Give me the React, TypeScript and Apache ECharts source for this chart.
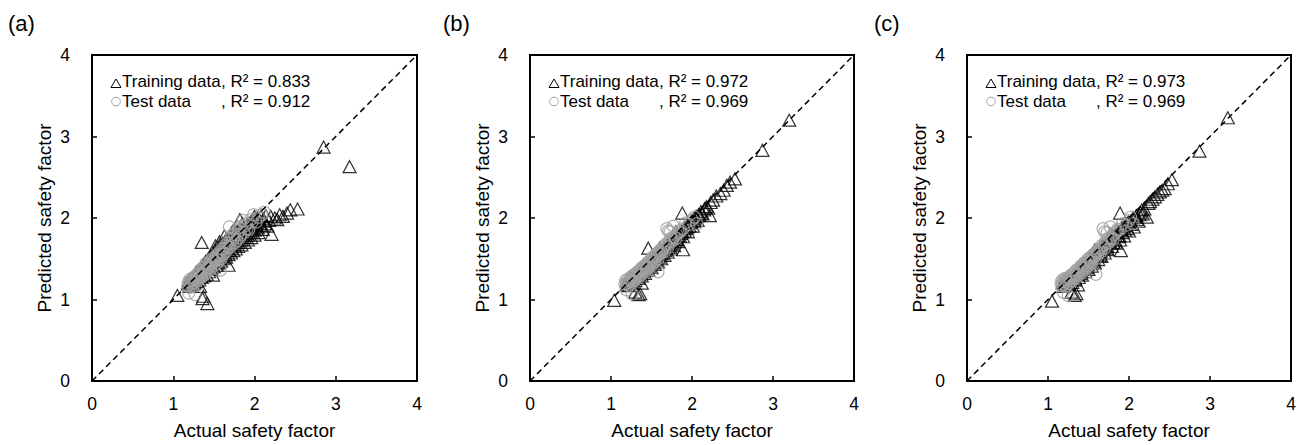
import { useEffect, useRef } from "react";
import * as echarts from "echarts";

// Axis range shared by all three panels (both axes)
const AXIS_MIN = 0;
const AXIS_MAX = 4;
const AXIS_STEP = 1;

const panelLabels = ["(a)", "(b)", "(c)"];
const r2Train = ["0.833", "0.972", "0.973"];
const r2Test = ["0.912", "0.969", "0.969"];
const xTitle = "Actual safety factor";
const yTitle = "Predicted safety factor";
const identityLine = [
  [0, 0],
  [4, 4],
];

// (a) actual vs predicted
const trainA = [
  [1.18, 1.19], [1.19, 1.23], [1.2, 1.16], [1.21, 1.21], [1.22, 1.26], [1.23, 1.18], [1.24, 1.23], [1.25, 1.29],
  [1.26, 1.2], [1.27, 1.26], [1.28, 1.32], [1.29, 1.22], [1.3, 1.28], [1.31, 1.36], [1.32, 1.24], [1.33, 1.31],
  [1.34, 1.39], [1.35, 1.27], [1.36, 1.34], [1.37, 1.43], [1.38, 1.29], [1.39, 1.37], [1.4, 1.47], [1.41, 1.31],
  [1.42, 1.41], [1.43, 1.5], [1.44, 1.34], [1.45, 1.44], [1.46, 1.53], [1.47, 1.37], [1.48, 1.46], [1.49, 1.57],
  [1.5, 1.4], [1.51, 1.49], [1.52, 1.6], [1.53, 1.42], [1.54, 1.52], [1.55, 1.63], [1.56, 1.45], [1.57, 1.55],
  [1.58, 1.66], [1.59, 1.47], [1.6, 1.58], [1.61, 1.69], [1.62, 1.5], [1.63, 1.61], [1.64, 1.72], [1.65, 1.52],
  [1.66, 1.63], [1.67, 1.74], [1.68, 1.55], [1.69, 1.66], [1.7, 1.77], [1.71, 1.57], [1.72, 1.68], [1.73, 1.79],
  [1.74, 1.6], [1.75, 1.71], [1.76, 1.81], [1.77, 1.62], [1.78, 1.73], [1.79, 1.84], [1.8, 1.65], [1.82, 1.76],
  [1.83, 1.86], [1.84, 1.67], [1.86, 1.78], [1.87, 1.89], [1.88, 1.7], [1.9, 1.81], [1.91, 1.92], [1.92, 1.73],
  [1.94, 1.84], [1.95, 1.95], [1.96, 1.76], [1.98, 1.87], [1.99, 1.97], [2.0, 1.79], [2.02, 1.9], [2.03, 2.0],
  [2.05, 1.82], [2.07, 1.93], [2.08, 2.02], [2.1, 1.86], [2.12, 1.96], [2.14, 2.03], [2.16, 1.9], [2.18, 1.97],
  [1.22, 1.22], [1.25, 1.24], [1.28, 1.27], [1.3, 1.32], [1.33, 1.28], [1.35, 1.36], [1.37, 1.33], [1.4, 1.38],
  [1.42, 1.45], [1.44, 1.39], [1.46, 1.48], [1.48, 1.42], [1.5, 1.52], [1.52, 1.46], [1.54, 1.56], [1.56, 1.5],
  [1.58, 1.6], [1.6, 1.53], [1.62, 1.64], [1.64, 1.57], [1.66, 1.68], [1.68, 1.6], [1.7, 1.71], [1.72, 1.63],
  [1.74, 1.75], [1.76, 1.67], [1.78, 1.78], [1.8, 1.7], [1.82, 1.81], [1.84, 1.73], [1.86, 1.84], [1.88, 1.76],
  [1.9, 1.87], [1.92, 1.79], [1.94, 1.9], [1.96, 1.82], [1.98, 1.92], [2.0, 1.85], [2.02, 1.95], [2.04, 1.88],
  [2.06, 1.98], [2.09, 1.91], [2.11, 1.99], [2.13, 1.93], [1.63, 1.78], [1.57, 1.71], [1.52, 1.66], [1.85, 1.93],
  [1.74, 1.85], [2.0, 2.02],
  [1.05, 1.05], [1.33, 1.16], [1.36, 1.01], [1.37, 1.04], [1.42, 0.95], [1.35, 1.7], [1.49, 1.3], [1.68, 1.42],
  [1.82, 1.98], [2.21, 1.8], [2.2, 2.02], [2.25, 2.0], [2.28, 1.98], [2.31, 2.04], [2.35, 2.02], [2.4, 2.06],
  [2.44, 2.1], [2.53, 2.11], [2.85, 2.87], [3.17, 2.63],
];
const testA = [
  [1.18, 1.18], [1.19, 1.22], [1.2, 1.15], [1.19, 1.08], [1.21, 1.25], [1.22, 1.19], [1.23, 1.23], [1.24, 1.16],
  [1.25, 1.27], [1.26, 1.21], [1.27, 1.06], [1.27, 1.25], [1.29, 1.3], [1.3, 1.23], [1.31, 1.27], [1.33, 1.33],
  [1.34, 1.27], [1.35, 1.31], [1.37, 1.38], [1.38, 1.3], [1.39, 1.35], [1.41, 1.42], [1.42, 1.34], [1.43, 1.39],
  [1.45, 1.46], [1.46, 1.37], [1.47, 1.43], [1.49, 1.5], [1.5, 1.41], [1.51, 1.47], [1.53, 1.54], [1.54, 1.45],
  [1.55, 1.51], [1.57, 1.58], [1.58, 1.36], [1.59, 1.5], [1.6, 1.62], [1.62, 1.56], [1.64, 1.66], [1.65, 1.59],
  [1.67, 1.7], [1.69, 1.89], [1.7, 1.64], [1.71, 1.75], [1.73, 1.68], [1.75, 1.8], [1.77, 1.85], [1.78, 1.72],
  [1.8, 1.84], [1.82, 1.76], [1.84, 1.9], [1.86, 1.97], [1.87, 1.82], [1.9, 1.93], [1.93, 1.86], [1.95, 1.98],
  [1.99, 2.04], [2.02, 1.95], [2.05, 2.01], [2.09, 2.04], [2.12, 2.07],
  [1.2, 1.21], [1.22, 1.23], [1.24, 1.2], [1.26, 1.24], [1.28, 1.29], [1.29, 1.26], [1.31, 1.31], [1.32, 1.26],
  [1.33, 1.36], [1.35, 1.28], [1.36, 1.35], [1.38, 1.4], [1.4, 1.33], [1.4, 1.44], [1.42, 1.38], [1.44, 1.44],
  [1.46, 1.41], [1.47, 1.49], [1.48, 1.45], [1.5, 1.47], [1.52, 1.52], [1.53, 1.5], [1.55, 1.55], [1.56, 1.49],
  [1.58, 1.54], [1.6, 1.58], [1.61, 1.55], [1.63, 1.62], [1.66, 1.65], [1.68, 1.64], [1.7, 1.69], [1.72, 1.79],
  [1.74, 1.74], [1.76, 1.7], [1.79, 1.8], [1.81, 1.88], [1.83, 1.79], [1.88, 1.9], [1.91, 1.87], [1.97, 1.95],
];

// (b) actual vs predicted
const trainB = [
  [1.19, 1.18], [1.2, 1.23], [1.22, 1.17], [1.23, 1.22], [1.24, 1.26], [1.26, 1.2], [1.27, 1.25], [1.28, 1.29],
  [1.3, 1.23], [1.31, 1.28], [1.32, 1.32], [1.34, 1.26], [1.35, 1.31], [1.36, 1.36], [1.38, 1.29], [1.39, 1.34],
  [1.4, 1.4], [1.42, 1.32], [1.43, 1.38], [1.44, 1.43], [1.46, 1.36], [1.47, 1.41], [1.48, 1.47], [1.5, 1.39],
  [1.51, 1.45], [1.52, 1.51], [1.54, 1.43], [1.55, 1.48], [1.56, 1.55], [1.58, 1.46], [1.59, 1.52], [1.6, 1.58],
  [1.62, 1.5], [1.63, 1.56], [1.64, 1.62], [1.66, 1.54], [1.67, 1.6], [1.68, 1.66], [1.7, 1.58], [1.71, 1.64],
  [1.72, 1.7], [1.74, 1.62], [1.75, 1.68], [1.77, 1.74], [1.78, 1.66], [1.8, 1.73], [1.82, 1.79], [1.83, 1.71],
  [1.85, 1.78], [1.87, 1.84], [1.89, 1.77], [1.91, 1.84], [1.93, 1.9], [1.95, 1.83], [1.97, 1.9], [1.99, 1.96],
  [2.01, 1.9], [2.03, 1.96], [2.05, 2.02], [2.07, 1.97], [2.09, 2.03], [2.11, 2.08], [2.13, 2.05], [2.15, 2.1],
  [2.18, 2.14], [2.2, 2.12],
  [1.21, 1.2], [1.24, 1.21], [1.27, 1.23], [1.29, 1.27], [1.32, 1.28], [1.34, 1.31], [1.37, 1.33], [1.39, 1.37],
  [1.41, 1.38], [1.44, 1.4], [1.46, 1.43], [1.49, 1.45], [1.51, 1.48], [1.53, 1.49], [1.56, 1.51], [1.58, 1.55],
  [1.61, 1.56], [1.63, 1.6], [1.65, 1.61], [1.68, 1.63], [1.7, 1.67], [1.73, 1.68], [1.75, 1.72], [1.78, 1.73],
  [1.8, 1.77], [1.83, 1.78], [1.86, 1.81], [1.88, 1.83], [1.91, 1.87], [1.94, 1.88], [1.96, 1.93], [1.99, 1.94],
  [2.02, 1.99], [2.04, 2.0], [2.08, 2.04], [2.12, 2.06], [2.16, 2.12], [1.6, 1.63], [1.8, 1.83],
  [1.04, 0.99], [1.3, 1.09], [1.34, 1.06], [1.36, 1.07], [1.38, 1.2], [1.46, 1.63], [1.89, 1.61], [1.88, 2.06],
  [2.22, 2.03], [2.23, 2.19], [2.26, 2.22], [2.3, 2.27], [2.35, 2.3], [2.39, 2.34], [2.43, 2.4], [2.47, 2.44],
  [2.53, 2.48], [2.87, 2.83], [3.2, 3.2],
];
const testB = [
  [1.17, 1.19], [1.18, 1.23], [1.19, 1.12], [1.2, 1.2], [1.21, 1.25], [1.22, 1.17], [1.24, 1.23], [1.25, 1.28],
  [1.26, 1.07], [1.26, 1.2], [1.28, 1.26], [1.29, 1.31], [1.3, 1.24], [1.32, 1.29], [1.33, 1.34], [1.34, 1.27],
  [1.36, 1.33], [1.37, 1.38], [1.38, 1.31], [1.4, 1.36], [1.41, 1.41], [1.42, 1.34], [1.44, 1.4], [1.45, 1.45],
  [1.46, 1.38], [1.48, 1.44], [1.49, 1.49], [1.5, 1.42], [1.52, 1.48], [1.53, 1.53], [1.54, 1.46], [1.56, 1.52],
  [1.57, 1.57], [1.58, 1.34], [1.58, 1.5], [1.6, 1.56], [1.61, 1.61], [1.63, 1.58], [1.65, 1.64], [1.66, 1.59],
  [1.68, 1.68], [1.69, 1.87], [1.7, 1.64], [1.72, 1.72], [1.73, 1.83], [1.75, 1.71], [1.77, 1.9], [1.78, 1.77],
  [1.8, 1.75], [1.83, 1.82], [1.86, 1.85], [1.89, 1.87], [1.92, 1.94], [1.96, 1.92], [2.0, 1.98], [2.03, 2.01],
  [2.06, 1.93],
  [1.19, 1.2], [1.21, 1.21], [1.23, 1.24], [1.25, 1.22], [1.27, 1.28], [1.28, 1.23], [1.3, 1.3], [1.31, 1.27],
  [1.33, 1.3], [1.35, 1.35], [1.36, 1.3], [1.38, 1.36], [1.39, 1.39], [1.41, 1.37], [1.43, 1.42], [1.44, 1.38],
  [1.46, 1.45], [1.47, 1.42], [1.49, 1.46], [1.51, 1.51], [1.52, 1.45], [1.54, 1.52], [1.55, 1.55], [1.57, 1.53],
  [1.59, 1.58], [1.62, 1.59], [1.64, 1.61], [1.67, 1.66], [1.71, 1.68], [1.74, 1.75], [1.76, 1.74], [1.81, 1.8],
  [1.85, 1.83], [1.71, 1.84],
];

// (c) actual vs predicted
const trainC = [
  [1.18, 1.2], [1.19, 1.16], [1.21, 1.22], [1.22, 1.18], [1.23, 1.25], [1.25, 1.21], [1.26, 1.19], [1.27, 1.27],
  [1.29, 1.24], [1.3, 1.21], [1.31, 1.3], [1.33, 1.27], [1.34, 1.24], [1.35, 1.34], [1.37, 1.31], [1.38, 1.27],
  [1.39, 1.38], [1.41, 1.35], [1.42, 1.3], [1.43, 1.42], [1.45, 1.39], [1.46, 1.34], [1.47, 1.46], [1.49, 1.43],
  [1.5, 1.37], [1.51, 1.5], [1.53, 1.47], [1.54, 1.41], [1.55, 1.54], [1.57, 1.51], [1.58, 1.45], [1.59, 1.58],
  [1.61, 1.55], [1.62, 1.49], [1.63, 1.62], [1.65, 1.59], [1.66, 1.53], [1.67, 1.66], [1.69, 1.63], [1.7, 1.57],
  [1.71, 1.7], [1.73, 1.66], [1.74, 1.61], [1.76, 1.74], [1.77, 1.69], [1.79, 1.65], [1.8, 1.78], [1.82, 1.73],
  [1.84, 1.69], [1.85, 1.82], [1.87, 1.77], [1.89, 1.73], [1.9, 1.86], [1.92, 1.82], [1.94, 1.78], [1.96, 1.91],
  [1.98, 1.87], [2.0, 1.84], [2.02, 1.96], [2.04, 1.92], [2.06, 1.89], [2.08, 2.01], [2.1, 1.98], [2.12, 1.96],
  [2.14, 2.07], [2.17, 2.05], [2.19, 2.11],
  [1.2, 1.22], [1.24, 1.23], [1.28, 1.26], [1.3, 1.28], [1.32, 1.25], [1.36, 1.32], [1.38, 1.35], [1.4, 1.32],
  [1.44, 1.4], [1.46, 1.43], [1.48, 1.39], [1.52, 1.48], [1.54, 1.51], [1.56, 1.46], [1.6, 1.56], [1.62, 1.59],
  [1.64, 1.54], [1.68, 1.64], [1.7, 1.67], [1.72, 1.62], [1.75, 1.71], [1.78, 1.75], [1.81, 1.7], [1.83, 1.79],
  [1.86, 1.83], [1.88, 1.78], [1.91, 1.87], [1.93, 1.9], [1.95, 1.85], [1.99, 1.95], [2.01, 1.93], [2.05, 2.0],
  [2.09, 2.03], [2.13, 2.04], [2.16, 2.1], [1.58, 1.61], [1.77, 1.8],
  [1.05, 0.98], [1.29, 1.09], [1.33, 1.05], [1.35, 1.07], [1.37, 1.18], [1.9, 1.6], [1.89, 2.06], [2.22, 2.01],
  [2.24, 2.18], [2.26, 2.2], [2.29, 2.23], [2.32, 2.26], [2.35, 2.29], [2.38, 2.32], [2.41, 2.34], [2.44, 2.36],
  [2.48, 2.42], [2.53, 2.47], [2.87, 2.82], [3.22, 3.23],
];
const testC = [
  [1.16, 1.21], [1.17, 1.17], [1.18, 1.24], [1.19, 1.09], [1.2, 1.19], [1.21, 1.26], [1.22, 1.16], [1.23, 1.22],
  [1.25, 1.05], [1.25, 1.27], [1.26, 1.2], [1.27, 1.25], [1.29, 1.3], [1.3, 1.23], [1.31, 1.28], [1.33, 1.33],
  [1.34, 1.26], [1.35, 1.31], [1.37, 1.37], [1.38, 1.3], [1.39, 1.35], [1.41, 1.41], [1.42, 1.33], [1.43, 1.39],
  [1.45, 1.45], [1.46, 1.37], [1.47, 1.43], [1.49, 1.49], [1.5, 1.41], [1.52, 1.47], [1.53, 1.52], [1.54, 1.45],
  [1.56, 1.51], [1.57, 1.56], [1.59, 1.31], [1.59, 1.5], [1.6, 1.59], [1.62, 1.56], [1.64, 1.63], [1.65, 1.58],
  [1.67, 1.67], [1.68, 1.87], [1.7, 1.63], [1.71, 1.71], [1.73, 1.82], [1.75, 1.7], [1.77, 1.89], [1.78, 1.76],
  [1.8, 1.74], [1.83, 1.82], [1.86, 1.86], [1.89, 1.86], [1.92, 1.93], [1.96, 1.91], [2.0, 1.97], [2.05, 1.93],
  [2.02, 2.01],
  [1.18, 1.19], [1.2, 1.22], [1.22, 1.24], [1.24, 1.2], [1.26, 1.26], [1.28, 1.23], [1.3, 1.31], [1.32, 1.27],
  [1.33, 1.29], [1.35, 1.36], [1.36, 1.3], [1.38, 1.34], [1.4, 1.4], [1.41, 1.36], [1.43, 1.43], [1.44, 1.38],
  [1.46, 1.45], [1.48, 1.42], [1.5, 1.47], [1.51, 1.51], [1.53, 1.46], [1.55, 1.53], [1.56, 1.55], [1.58, 1.53],
  [1.61, 1.58], [1.63, 1.6], [1.66, 1.62], [1.69, 1.66], [1.72, 1.69], [1.74, 1.75], [1.77, 1.74], [1.82, 1.8],
  [1.85, 1.84], [1.7, 1.83],
];

const trainSets = [trainA, trainB, trainC];
const testSets = [testA, testB, testC];

const FONT = "'Liberation Sans', Arial, Helvetica, sans-serif";
const GRID_LEFTS = [92, 530, 967];
const GRID_WIDTHS = [325, 324, 324];
const GRID_TOP = 55;
const GRID_HEIGHT = 326;

function buildOption() {
  const grid: any[] = [];
  const xAxis: any[] = [];
  const yAxis: any[] = [];
  const series: any[] = [];
  const graphic: any[] = [];

  GRID_LEFTS.forEach((left, i) => {
    grid.push({
      left,
      top: GRID_TOP,
      width: GRID_WIDTHS[i],
      height: GRID_HEIGHT,
      show: true,
      borderColor: "#000",
      borderWidth: 2,
      backgroundColor: "transparent",
    });
    const common = {
      gridIndex: i,
      type: "value",
      min: AXIS_MIN,
      max: AXIS_MAX,
      interval: AXIS_STEP,
      nameLocation: "middle",
      axisLine: { show: true, onZero: false, lineStyle: { color: "#000", width: 2 } },
      axisTick: { show: true, inside: true, length: 5, lineStyle: { color: "#000", width: 1.5 } },
      splitLine: { show: false },
    };
    xAxis.push({
      ...common,
      name: xTitle,
      nameGap: 40,
      nameTextStyle: { fontSize: 19, color: "#000", fontFamily: FONT },
      axisLabel: { fontSize: 17.5, color: "#000", margin: 14, fontFamily: FONT },
    });
    yAxis.push({
      ...common,
      name: yTitle,
      nameGap: 38,
      nameTextStyle: { fontSize: 19, color: "#000", fontFamily: FONT },
      axisLabel: { fontSize: 17.5, color: "#000", margin: 22, fontFamily: FONT },
    });

    series.push({
      type: "scatter",
      name: "Training data",
      xAxisIndex: i,
      yAxisIndex: i,
      data: trainSets[i],
      symbol: "triangle",
      symbolSize: [13, 12],
      silent: true,
      z: 2,
      itemStyle: { color: "rgba(0,0,0,0)", borderColor: "#000", borderWidth: 1.2 },
    });
    series.push({
      type: "scatter",
      name: "Test data",
      xAxisIndex: i,
      yAxisIndex: i,
      data: testSets[i],
      symbol: "circle",
      symbolSize: 12,
      silent: true,
      z: 3,
      itemStyle: { color: "rgba(0,0,0,0)", borderColor: "#a0a0a0", borderWidth: 1.2 },
    });
    series.push({
      type: "line",
      xAxisIndex: i,
      yAxisIndex: i,
      data: identityLine,
      symbol: "none",
      silent: true,
      z: 4,
      lineStyle: { color: "#000", width: 1.5, type: [6, 4] },
    });

    // Legend block inside the upper-left of the plot
    const gx = left;
    const gy = GRID_TOP;
    const textStyle = { fill: "#000", fontSize: 17, fontFamily: FONT, verticalAlign: "middle" };
    graphic.push(
      {
        type: "polygon",
        silent: true,
        shape: { points: [[gx + 19, gy + 32.5], [gx + 29, gy + 32.5], [gx + 24, gy + 24]] },
        style: { fill: "none", stroke: "#000", lineWidth: 1 },
      },
      { type: "text", silent: true, style: { ...textStyle, text: "Training data", x: gx + 30, y: gy + 26 } },
      { type: "text", silent: true, style: { ...textStyle, text: `, R² = ${r2Train[i]}`, x: gx + 129, y: gy + 26 } },
      {
        type: "circle",
        silent: true,
        shape: { cx: gx + 24, cy: gy + 46.5, r: 4.3 },
        style: { fill: "none", stroke: "#a0a0a0", lineWidth: 1 },
      },
      { type: "text", silent: true, style: { ...textStyle, text: "Test data", x: gx + 30, y: gy + 46 } },
      { type: "text", silent: true, style: { ...textStyle, text: `, R² = ${r2Test[i]}`, x: gx + 129, y: gy + 46 } }
    );
  });

  // Panel letters
  const letterX = [8, 443, 874];
  panelLabels.forEach((label, i) => {
    graphic.push({
      type: "text",
      silent: true,
      style: { text: label, x: letterX[i], y: 23, fill: "#000", fontSize: 22, fontFamily: FONT, verticalAlign: "middle" },
    });
  });

  return {
    animation: false,
    backgroundColor: "#fff",
    grid,
    xAxis,
    yAxis,
    series,
    graphic,
  };
}

export default function App() {
  const ref = useRef<HTMLDivElement>(null);
  useEffect(() => {
    if (!ref.current) return;
    const chart = echarts.init(ref.current, undefined, { renderer: "svg" });
    chart.setOption(buildOption());
    return () => chart.dispose();
  }, []);
  return (
    <div
      ref={ref}
      style={{ position: "fixed", left: 0, top: 0, width: 1304, height: 445, background: "#fff" }}
    />
  );
}
